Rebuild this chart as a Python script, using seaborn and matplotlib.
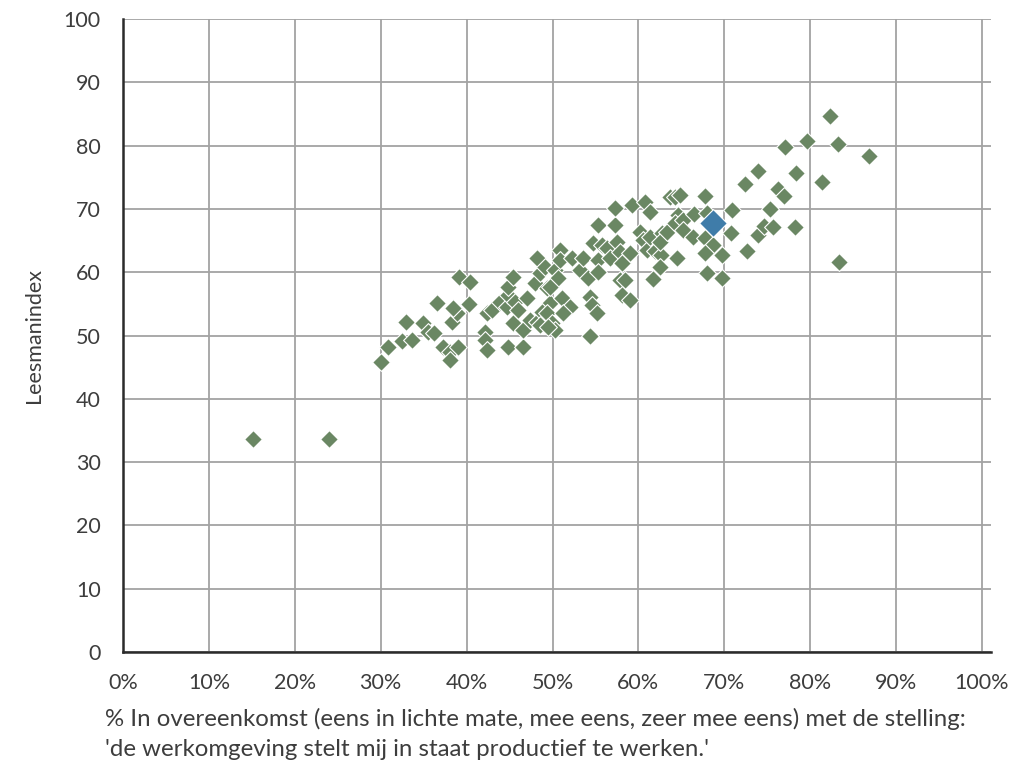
import matplotlib
matplotlib.use("Agg")
import matplotlib.pyplot as plt
import seaborn as sns
import pandas as pd

# Data
x_pct = [15.1, 24.0, 30.0, 30.8, 32.5, 33.6, 32.9, 34.9, 35.5, 36.2,
         36.6, 37.3, 38.1, 38.1, 39.0, 38.3, 38.9, 38.4, 39.1, 40.4,
         40.3, 42.1, 42.1, 42.4, 42.4, 43.0, 43.9, 44.7, 44.8, 44.8,
         45.4, 45.6, 47.0, 45.4, 46.0, 44.8, 46.6, 46.6, 47.4, 48.2,
         48.0, 48.5, 48.2, 49.4, 49.7, 48.8, 49.4, 49.9, 50.3, 48.5,
         49.5, 49.1, 50.3, 50.6, 50.9, 50.9, 49.7, 51.1, 52.0, 51.2,
         52.3, 53.2, 53.6, 54.1, 54.4, 54.6, 55.2, 54.4, 54.7, 55.3,
         55.3, 55.3, 55.8, 56.3, 56.7, 57.3, 57.3, 57.5, 57.9, 58.1,
         57.9, 58.4, 58.1, 59.0, 59.0, 59.3, 60.2, 60.5, 60.8, 61.0,
         61.4, 61.4, 61.9, 62.6, 62.5, 61.7, 62.7, 62.5, 63.3, 63.7,
         64.3, 64.8, 64.6, 64.3, 65.2, 65.2, 64.5, 66.5, 66.4, 67.8,
         68.0, 67.8, 68.7, 67.8, 69.7, 68.0, 69.7, 70.9, 70.8, 72.4,
         72.6, 73.9, 73.9, 74.6, 75.3, 75.7, 76.3, 77.0, 77.1, 78.3,
         78.2, 79.6, 81.4, 82.3, 83.2, 83.4, 86.8]
leesman = [33.6, 33.6, 45.8, 48.2, 49.1, 49.3, 52.1, 52.0, 50.6, 50.4,
           55.1, 48.2, 47.4, 46.1, 48.2, 52.1, 53.6, 54.3, 59.2, 58.5,
           55.0, 50.6, 49.3, 47.7, 53.6, 54.0, 55.3, 54.5, 56.4, 57.7,
           59.2, 55.3, 55.9, 52.0, 54.0, 48.2, 48.2, 50.9, 52.4, 52.1,
           58.3, 59.9, 62.2, 57.5, 55.1, 53.7, 53.6, 52.0, 50.9, 51.7,
           51.3, 60.8, 60.3, 59.1, 63.5, 61.9, 57.7, 55.9, 54.5, 53.6,
           62.2, 60.3, 62.2, 59.1, 56.1, 54.8, 53.6, 49.9, 64.6, 67.5,
           61.9, 60.0, 64.3, 63.8, 62.2, 67.5, 70.1, 64.8, 63.2, 61.5,
           58.8, 58.8, 56.4, 55.6, 63.0, 70.6, 66.4, 65.1, 71.1, 63.5,
           69.5, 65.6, 63.3, 62.7, 60.8, 58.9, 66.2, 64.8, 66.4, 71.9,
           71.9, 72.2, 69.0, 67.8, 68.2, 66.7, 62.2, 69.2, 65.6, 72.0,
           69.4, 65.4, 64.3, 63.0, 62.7, 59.9, 59.1, 69.8, 66.2, 73.9,
           63.3, 76.0, 65.9, 67.3, 70.0, 67.1, 73.1, 72.0, 79.8, 75.7,
           67.1, 80.7, 74.2, 84.7, 80.3, 61.6, 78.4]
highlight_x = [68.7]
highlight_y = [67.8]

x_ticks = [0, 10, 20, 30, 40, 50, 60, 70, 80, 90, 100]
x_tick_labels = ["0%", "10%", "20%", "30%", "40%", "50%", "60%", "70%", "80%", "90%", "100%"]
y_ticks = [0, 10, 20, 30, 40, 50, 60, 70, 80, 90, 100]

y_label = "Leesmanindex"
x_label = ("% In overeenkomst (eens in lichte mate, mee eens, zeer mee eens) met de stelling:\n"
           "'de werkomgeving stelt mij in staat productief te werken.'")

GREEN = "#6a8763"
BLUE = "#3f7ca9"
GRID = "#a3a3a3"
TEXT = "#3d3d3d"

sns.set_style("white")
plt.rcParams["font.family"] = ["Lato", "DejaVu Sans"]

df = pd.DataFrame({"x": x_pct, "y": leesman})
df_h = pd.DataFrame({"x": highlight_x, "y": highlight_y})

fig = plt.figure(figsize=(10.24, 7.81), dpi=100)
ax = fig.add_axes([123 / 1024, 1 - 652 / 781, 867.6 / 1024, 633 / 781])

sns.scatterplot(data=df, x="x", y="y", ax=ax, marker="D", s=82, color=GREEN,
                edgecolor="white", linewidth=0.8, zorder=3, legend=False)
sns.scatterplot(data=df_h, x="x", y="y", ax=ax, marker="D", s=200, color=BLUE,
                edgecolor="white", linewidth=0.8, zorder=4, legend=False)

ax.set_xlim(0, 101)
ax.set_ylim(0, 100)
ax.set_xticks(x_ticks)
ax.set_xticklabels(x_tick_labels)
ax.set_yticks(y_ticks)
ax.set_yticklabels([str(v) for v in y_ticks])

ax.grid(True, color=GRID, linewidth=1.3, zorder=0)
ax.set_axisbelow(True)
ax.tick_params(axis="both", which="major", direction="out", length=12.5,
               width=1.3, color=GRID, labelsize=15.5, labelcolor=TEXT)
ax.tick_params(axis="y", pad=3.5)
ax.tick_params(axis="x", pad=2.5)

for side in ["top", "right"]:
    ax.spines[side].set_visible(False)
for side in ["left", "bottom"]:
    ax.spines[side].set_color("#2b2b2b")
    ax.spines[side].set_linewidth(1.8)
    ax.spines[side].set_zorder(5)

ax.set_xlabel("")
ax.set_ylabel(y_label, fontsize=15.5, color=TEXT, labelpad=14)

fig.text(105 / 1024, 1 - 708 / 781, x_label, ha="left", va="top",
         fontsize=17.3, color=TEXT, linespacing=1.5)

fig.savefig("out.png", dpi=100)
